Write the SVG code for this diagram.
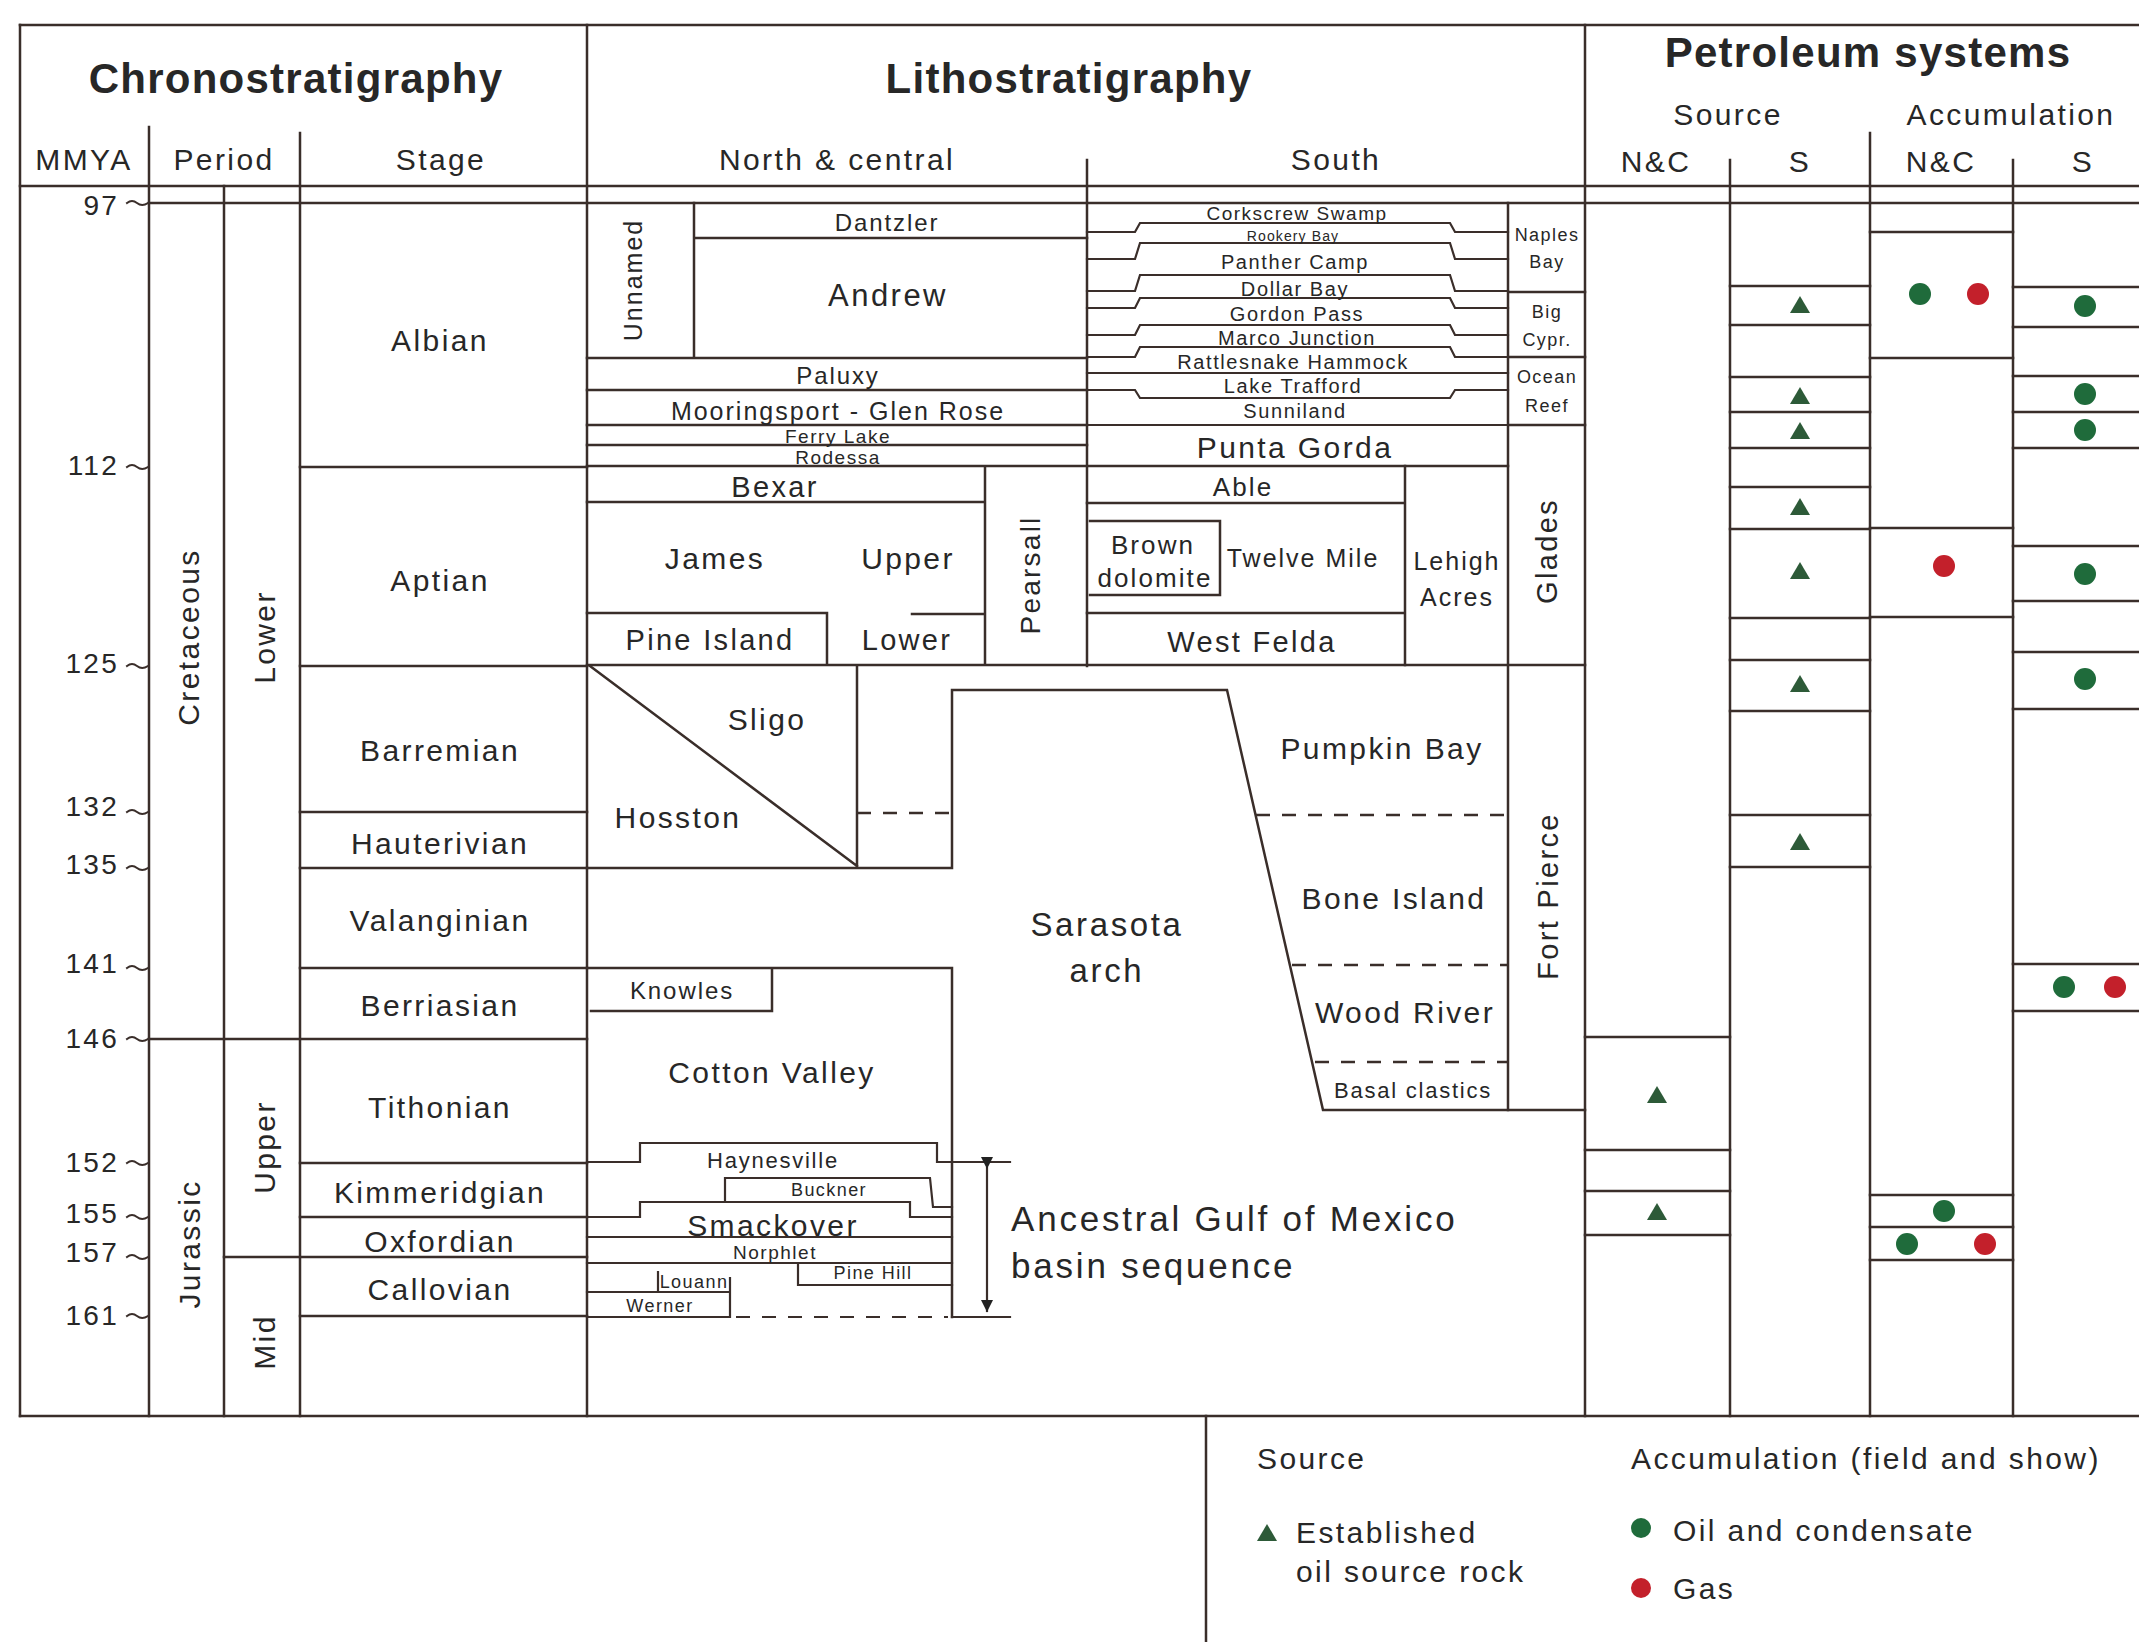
<svg xmlns="http://www.w3.org/2000/svg" width="2139" height="1642" viewBox="0 0 2139 1642">
<defs>
<style>
.l{stroke:#3a2e2a;stroke-width:2.5;fill:none;stroke-linecap:square}
.d{stroke-dasharray:14 12;stroke-linecap:butt}
text{font-family:"Liberation Sans",Arial,Helvetica,sans-serif;fill:#272727;letter-spacing:0.08em}
.ttl{font-weight:bold;font-size:42px;letter-spacing:0.03em}
.h{font-size:30px}
.st{font-size:30px}
.n{font-size:28px}
.c{text-anchor:middle}
.g{fill:#1f6b3b}
.r{fill:#c3202b}
.tri{fill:#2d5a38}
</style>
<path id="tri" d="M0,-9 L10,8 L-10,8 Z"/>
<marker id="ah" viewBox="0 0 12 18" refX="11" refY="6" markerWidth="12" markerHeight="18" orient="auto" markerUnits="userSpaceOnUse"><path d="M0,0 L12,6 L0,12 Z" fill="#222"/></marker>
</defs>
<rect width="2139" height="1642" fill="#ffffff"/>

<g id="frame">
<path class="l" d="M20,25 H2139 M20,186 H2139 M149,203 H2139 M20,1416 H2139"/>
<path class="l" d="M20,25 V1416 M149,127 V1416 M224,186 V1416 M300,133 V1416 M587,25 V1416 M1585,25 V1416 M1087,160 V666 M1730,160 V1416 M1870,133 V1416 M2013,160 V1416 M1206,1416 V1642"/>
</g>

<g id="headers">
<text class="ttl c" x="296" y="93">Chronostratigraphy</text>
<text class="ttl c" x="1069" y="93">Lithostratigraphy</text>
<text class="ttl c" x="1868" y="67">Petroleum systems</text>
<text class="h c" x="1728" y="125">Source</text>
<text class="h c" x="2011" y="125">Accumulation</text>
<text class="h c" x="84" y="170">MMYA</text>
<text class="h c" x="224" y="170">Period</text>
<text class="h c" x="441" y="170">Stage</text>
<text class="h c" x="837" y="170">North &amp; central</text>
<text class="h c" x="1336" y="170">South</text>
<text class="h c" x="1656" y="172">N&amp;C</text>
<text class="h c" x="1800" y="172">S</text>
<text class="h c" x="1941" y="172">N&amp;C</text>
<text class="h c" x="2083" y="172">S</text>
</g>

<g id="chrono">
<g id="ages" class="n">
<text x="119" y="215" text-anchor="end">97</text>
<text x="119" y="475" text-anchor="end">112</text>
<text x="119" y="673" text-anchor="end">125</text>
<text x="119" y="816" text-anchor="end">132</text>
<text x="119" y="874" text-anchor="end">135</text>
<text x="119" y="973" text-anchor="end">141</text>
<text x="119" y="1048" text-anchor="end">146</text>
<text x="119" y="1172" text-anchor="end">152</text>
<text x="119" y="1223" text-anchor="end">155</text>
<text x="119" y="1262" text-anchor="end">157</text>
<text x="119" y="1325" text-anchor="end">161</text>
</g>
<path class="l" style="stroke-width:2" d="M127,203 q5,-4 10,0 t11,0 M127,467 q5,-4 10,0 t11,0 M127,666 q5,-4 10,0 t11,0 M127,812 q5,-4 10,0 t11,0 M127,868 q5,-4 10,0 t11,0 M127,968 q5,-4 10,0 t11,0 M127,1039 q5,-4 10,0 t11,0 M127,1163 q5,-4 10,0 t11,0 M127,1217 q5,-4 10,0 t11,0 M127,1257 q5,-4 10,0 t11,0 M127,1316 q5,-4 10,0 t11,0"/>
<path class="l" d="M300,467 H587 M300,666 H587 M300,812 H587 M300,868 H587 M300,968 H587 M149,1039 H587 M300,1163 H587 M300,1217 H587 M224,1257 H587 M300,1316 H587"/>
<g class="st c">
<text x="440" y="351">Albian</text>
<text x="440" y="591">Aptian</text>
<text x="440" y="761">Barremian</text>
<text x="440" y="854">Hauterivian</text>
<text x="440" y="931">Valanginian</text>
<text x="440" y="1016">Berriasian</text>
<text x="440" y="1118">Tithonian</text>
<text x="440" y="1203">Kimmeridgian</text>
<text x="440" y="1252">Oxfordian</text>
<text x="440" y="1300">Callovian</text>
</g>
<g class="st c">
<text transform="translate(188,637) rotate(-90)" y="11">Cretaceous</text>
<text transform="translate(264,637) rotate(-90)" y="11">Lower</text>
<text transform="translate(189,1244) rotate(-90)" y="11">Jurassic</text>
<text transform="translate(264,1147) rotate(-90)" y="11">Upper</text>
<text transform="translate(264,1342) rotate(-90)" y="11">Mid</text>
</g>
</g>

<g id="litho-north-upper">
<path class="l" d="M694,203 V358 M694,238 H1087 M587,358 H1087 M587,390 H1087 M587,425 H1087 M587,445 H1087 M587,466 H1508 M587,502 H985 M985,466 V665 M587,613 H827 V665 M912,614 H985 M587,665 H1585"/>
<text class="c" style="font-size:25px" transform="translate(633,280) rotate(-90)" y="9">Unnamed</text>
<text class="c" style="font-size:24px" x="887" y="231">Dantzler</text>
<text class="c" style="font-size:31px" x="888" y="306">Andrew</text>
<text class="c" style="font-size:24px" x="838" y="384">Paluxy</text>
<text class="c" style="font-size:25px" x="838" y="420">Mooringsport - Glen Rose</text>
<text class="c" style="font-size:19px" x="838" y="443">Ferry Lake</text>
<text class="c" style="font-size:19px" x="838" y="464">Rodessa</text>
<text class="c" style="font-size:29px" x="775" y="497">Bexar</text>
<text class="c" style="font-size:30px" x="715" y="569">James</text>
<text class="c" style="font-size:30px" x="908" y="569">Upper</text>
<text class="c" style="font-size:29px" x="710" y="650">Pine Island</text>
<text class="c" style="font-size:29px" x="907" y="650">Lower</text>
<text class="c" style="font-size:28px" transform="translate(1030,575) rotate(-90)" y="10">Pearsall</text>
</g>

<g id="litho-south-upper">
<path class="l" d="M1508,203 V1110 M1508,292 H1585 M1508,357 H1585 M1508,425 H1585"/>
<path class="l" style="stroke-width:2.2" d="M1087,232 H1135 L1140,223 H1450 L1455,232 H1508 M1087,259 H1135 L1140,243 H1450 L1455,259 H1508 M1087,291 H1135 L1140,275 H1450 L1455,291 H1508 M1087,308 H1135 L1140,298 H1450 L1455,308 H1508 M1087,335 H1135 L1140,325 H1450 L1455,335 H1508 M1087,357 H1135 L1140,347 H1450 L1455,357 H1508 M1087,373 H1508 M1087,390 H1135 L1140,398 H1450 L1455,390 H1508 M1087,425 H1508"/>
<g class="c" style="font-size:20px">
<text x="1297" y="220" style="font-size:19px">Corkscrew Swamp</text>
<text x="1293" y="241" style="font-size:14px">Rookery Bay</text>
<text x="1295" y="269">Panther Camp</text>
<text x="1295" y="296">Dollar Bay</text>
<text x="1297" y="321">Gordon Pass</text>
<text x="1297" y="345">Marco Junction</text>
<text x="1293" y="369">Rattlesnake Hammock</text>
<text x="1293" y="393">Lake Trafford</text>
<text x="1295" y="418">Sunniland</text>
</g>
<g class="c" style="font-size:18px">
<text x="1547" y="241">Naples</text>
<text x="1547" y="268">Bay</text>
<text x="1547" y="318">Big</text>
<text x="1547" y="346">Cypr.</text>
<text x="1547" y="383">Ocean</text>
<text x="1547" y="412">Reef</text>
</g>
<text class="c" style="font-size:30px" x="1295" y="458">Punta Gorda</text>
<path class="l" d="M1087,503 H1405 M1405,466 V665 M1090,521 H1220 V595 H1090 M1087,613 H1405"/>
<text class="c" style="font-size:26px" x="1243" y="496">Able</text>
<text class="c" style="font-size:26px" x="1153" y="554">Brown</text>
<text class="c" style="font-size:26px" x="1155" y="587">dolomite</text>
<text class="c" style="font-size:25px" x="1303" y="567">Twelve Mile</text>
<text class="c" style="font-size:25px" x="1457" y="570">Lehigh</text>
<text class="c" style="font-size:25px" x="1457" y="606">Acres</text>
<text class="c" style="font-size:29px" x="1252" y="652">West Felda</text>
<text class="c" style="font-size:29px" transform="translate(1547,551) rotate(-90)" y="10">Glades</text>
</g>

<g id="litho-lower">
<path class="l" d="M590,666 L857,866 M857,666 V868 M587,868 H952 M952,690 V868 M952,690 H1227 L1323,1110 H1585"/>
<path class="l d" d="M857,813 H952 M1256,815 H1508 M1292,965 H1508 M1315,1062 H1508"/>
<text class="c" style="font-size:30px" x="767" y="730">Sligo</text>
<text class="c" style="font-size:30px" x="678" y="828">Hosston</text>
<text class="c" style="font-size:33px" x="1107" y="936">Sarasota</text>
<text class="c" style="font-size:33px" x="1107" y="982">arch</text>
<text class="c" style="font-size:30px" x="1382" y="759">Pumpkin Bay</text>
<text class="c" style="font-size:30px" x="1394" y="909">Bone Island</text>
<text class="c" style="font-size:30px" x="1405" y="1023">Wood River</text>
<text class="c" style="font-size:22px" x="1413" y="1098">Basal clastics</text>
<text class="c" style="font-size:29px" transform="translate(1548,896) rotate(-90)" y="10">Fort Pierce</text>
<path class="l" d="M587,968 H952 V1317 M772,968 V1011 H591"/>
<text class="c" style="font-size:24px" x="682" y="999">Knowles</text>
<text class="c" style="font-size:30px" x="772" y="1083">Cotton Valley</text>
<path class="l" style="stroke-width:2.2" d="M587,1162 H640 V1143 H937 V1162 H1010 M725,1202 V1178 H930 L933,1207 H952 M587,1217 H640 V1202 H910 V1217 H952 M587,1237 H952 M587,1263 H952 M798,1263 V1285 H952 M658,1272 V1292 M587,1292 H730 M730,1278 V1317 M587,1317 H730 M952,1317 H1010"/>
<path class="l d" style="stroke-width:2.2" d="M736,1317 H948"/>
<path class="l" style="stroke-width:2.2" d="M987,1168 V1311" marker-start="url(#ah)" marker-end="url(#ah)"/>
<text class="c" style="font-size:22px" x="773" y="1168">Haynesville</text>
<text class="c" style="font-size:18px" x="829" y="1196">Buckner</text>
<text class="c" style="font-size:30px" x="773" y="1236">Smackover</text>
<text class="c" style="font-size:19px" x="775" y="1259">Norphlet</text>
<text class="c" style="font-size:18px" x="873" y="1279">Pine Hill</text>
<text class="c" style="font-size:18px" x="694" y="1288">Louann</text>
<text class="c" style="font-size:18px" x="660" y="1312">Werner</text>
<text style="font-size:35px" x="1011" y="1231">Ancestral Gulf of Mexico</text>
<text style="font-size:35px" x="1011" y="1278">basin sequence</text>
</g>

<g id="petroleum">
<path class="l" d="M1730,286 H1870 M1730,325 H1870 M1730,377 H1870 M1730,412 H1870 M1730,448 H1870 M1730,487 H1870 M1730,529 H1870 M1730,618 H1870 M1730,660 H1870 M1730,711 H1870 M1730,815 H1870 M1730,867 H1870"/>
<path class="l" d="M1585,1037 H1730 M1585,1150 H1730 M1585,1191 H1730 M1585,1235 H1730"/>
<path class="l" d="M1870,232 H2013 M1870,358 H2013 M1870,528 H2013 M1870,617 H2013 M1870,1195 H2013 M1870,1227 H2013 M1870,1260 H2013"/>
<path class="l" d="M2013,287 H2139 M2013,327 H2139 M2013,376 H2139 M2013,412 H2139 M2013,448 H2139 M2013,546 H2139 M2013,601 H2139 M2013,652 H2139 M2013,709 H2139 M2013,964 H2139 M2013,1011 H2139"/>
<g class="tri">
<use href="#tri" x="1800" y="305"/>
<use href="#tri" x="1800" y="396"/>
<use href="#tri" x="1800" y="431"/>
<use href="#tri" x="1800" y="507"/>
<use href="#tri" x="1800" y="571"/>
<use href="#tri" x="1800" y="684"/>
<use href="#tri" x="1800" y="842"/>
<use href="#tri" x="1657" y="1095"/>
<use href="#tri" x="1657" y="1212"/>
</g>
<circle class="g" cx="1920" cy="294" r="11"/>
<circle class="r" cx="1978" cy="294" r="11"/>
<circle class="r" cx="1944" cy="566" r="11"/>
<circle class="g" cx="1944" cy="1211" r="11"/>
<circle class="g" cx="1907" cy="1244" r="11"/>
<circle class="r" cx="1985" cy="1244" r="11"/>
<circle class="g" cx="2085" cy="306" r="11"/>
<circle class="g" cx="2085" cy="394" r="11"/>
<circle class="g" cx="2085" cy="430" r="11"/>
<circle class="g" cx="2085" cy="574" r="11"/>
<circle class="g" cx="2085" cy="679" r="11"/>
<circle class="g" cx="2064" cy="987" r="11"/>
<circle class="r" cx="2115" cy="987" r="11"/>
</g>

<g id="legend">
<text class="h" x="1257" y="1469">Source</text>
<use href="#tri" class="tri" x="1267" y="1533"/>
<text class="h" x="1296" y="1543">Established</text>
<text class="h" x="1296" y="1582">oil source rock</text>
<text class="h" x="1631" y="1469">Accumulation (field and show)</text>
<circle class="g" cx="1641" cy="1528" r="10"/>
<text class="h" x="1673" y="1541">Oil and condensate</text>
<circle class="r" cx="1641" cy="1588" r="10"/>
<text class="h" x="1673" y="1599">Gas</text>
</g>
</svg>
